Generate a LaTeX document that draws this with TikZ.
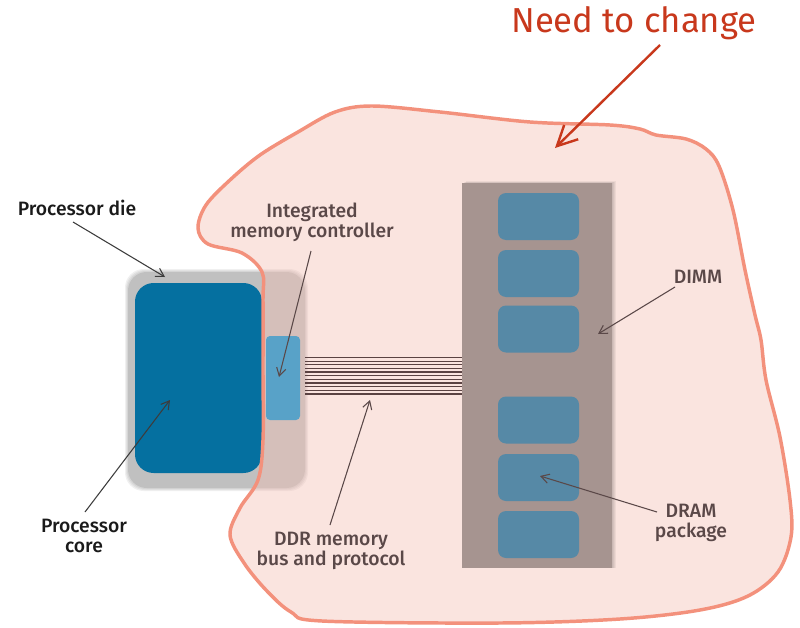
\documentclass[tikz,border=0pt]{standalone}
\usepackage{fontspec}
\setmainfont{Fira Sans Medium}
\newfontfamily\titlefont{Fira Sans}
\usetikzlibrary{arrows.meta}
\definecolor{blobline}{HTML}{F3917C}
\definecolor{blobfill}{RGB}{243,190,179}
\definecolor{diegray}{HTML}{C0C0C0}
\definecolor{corecol}{HTML}{0570A0}
\definecolor{imccol}{HTML}{58A2C8}
\definecolor{dimmcol}{HTML}{A69490}
\definecolor{chipcol}{HTML}{5689A6}
\definecolor{buscol}{HTML}{5A4242}
\definecolor{labbrown}{HTML}{5A4848}
\definecolor{labblack}{HTML}{1A1A1A}
\definecolor{redcol}{HTML}{C8381C}
\tikzset{
  box/.style={inner sep=0pt, outer sep=0pt, draw=none},
  chip/.style={box, fill=chipcol, rounded corners=6pt, minimum width=60.75pt, minimum height=35.25pt},
  lab/.style={inner sep=0pt, align=center, font=\fontsize{14.5}{14.3}\selectfont},
  labarrow/.style={line width=0.8pt, -{Straight Barb[length=6pt,width=7pt]}},
  busline/.style={draw=buscol, line width=0.95pt},
}
\begin{document}
\begin{tikzpicture}[x=0.75pt,y=-0.75pt]
\useasboundingbox (0,0) rectangle (800,628);
% die shadow
\foreach \i in {1,...,3}{
  \fill[black, opacity=0.06, rounded corners=14pt] ({128-\i},{272-\i}) rectangle ({305+\i},{488+\i});
}
\node[box, fill=diegray, rounded corners=14pt, minimum width=132.75pt, minimum height=162pt] (die) at (216.5,380) {};
\node[box, fill=corecol, rounded corners=14pt, minimum width=95.25pt, minimum height=142.5pt] (core) at (198.5,378) {};
% blob
\path[fill=blobfill, fill opacity=0.42] plot[smooth cycle, tension=0.55] coordinates {
  (263,300) (262,272) (242,253) (208,244) (198,228) (206,205) (230,180) (260,155) (298,132)
  (335,112) (372,106) (440,112) (530,122) (610,125) (640,129) (656,135) (686,139) (706,149)
  (719,166) (733,210) (745,270) (755,315) (761,340) (766,380) (780,437) (790,500) (791,537)
  (778,572) (748,596) (700,610) (620,619) (500,623) (322,621) (291,612) (266,590) (244,563)
  (230,535) (240,508) (258,480) (263,440) (263,370)};
\node[box, fill=imccol, rounded corners=3pt, minimum width=25.5pt, minimum height=63pt] (imc) at (283,378) {};
% DIMM shadow
\foreach \i in {1,...,4}{
  \fill[black, opacity=0.05] ({462+\i},{183-0.5*\i}) rectangle ({612+\i},{568});
}
\node[box, fill=dimmcol, minimum width=112.5pt, minimum height=288.75pt] (dimm) at (537,375.5) {};
\node[chip] (c1) at (538.5,216.5) {};
\node[chip] (c2) at (538.5,273.5) {};
\node[chip] (c3) at (538.5,329) {};
\node[chip] (c4) at (538.5,420) {};
\node[chip] (c5) at (538.5,477.5) {};
\node[chip] (c6) at (538.5,534.5) {};
% bus
\coordinate (busL) at (305,357.5);
\coordinate (busR) at (462,357.5);
\foreach \k in {0,...,10}{
  \draw[busline] ([yshift={-2.74pt*\k}]busL) -- ([yshift={-2.74pt*\k}]busR);
}
% blob outline
\draw[blobline, line width=2.6pt] plot[smooth cycle, tension=0.55] coordinates {
  (263,300) (262,272) (242,253) (208,244) (198,228) (206,205) (230,180) (260,155) (298,132)
  (335,112) (372,106) (440,112) (530,122) (610,125) (640,129) (656,135) (686,139) (706,149)
  (719,166) (733,210) (745,270) (755,315) (761,340) (766,380) (780,437) (790,500) (791,537)
  (778,572) (748,596) (700,610) (620,619) (500,623) (322,621) (291,612) (266,590) (244,563)
  (230,535) (240,508) (258,480) (263,440) (263,370)};
% labels
\node[inner sep=0pt, anchor=base, text=redcol, font=\titlefont\fontsize{26}{26}\selectfont] (need) at (634,32) {Need to change};
\node[lab, anchor=base, text=labblack] (pdie) at (77,215) {Processor die};
\node[lab, anchor=base, text=labbrown] (imclab) at (312,237) {Integrated\\memory controller};
\node[lab, anchor=base, text=labblack] (pcore) at (84,552) {Processor\\core};
\node[lab, anchor=base, text=labbrown] (ddr) at (331,565) {DDR memory\\bus and protocol};
\node[lab, anchor=base, text=labbrown] (dimmlab) at (698,283) {DIMM};
\node[lab, anchor=base, text=labbrown] (dram) at (691,537) {DRAM\\package};
% arrows
\coordinate (redS) at (660,45);   \coordinate (redT) at (555,148);
\coordinate (pdS) at (73,222);    \coordinate (pdT) at (165,277);
\coordinate (imcS) at (311,251);  \coordinate (imcT) at (279,377);
\coordinate (pcS) at (85,512);    \coordinate (pcT) at (170,400);
\coordinate (ddrS) at (330,525);  \coordinate (ddrT) at (370,400);
\coordinate (dimmS) at (675,287); \coordinate (dimmT) at (598,334);
\coordinate (dramS) at (657,512); \coordinate (dramT) at (540,476);
\draw[redcol, line width=1.8pt, -{Straight Barb[length=15pt,width=15pt]}] (redS) -- (redT);
\draw[labarrow, draw=labblack!85] (pdS) -- (pdT);
\draw[labarrow, draw=labbrown] (imcS) -- (imcT);
\draw[labarrow, draw=labblack!85] (pcS) -- (pcT);
\draw[labarrow, draw=labbrown] (ddrS) -- (ddrT);
\draw[labarrow, draw=labbrown] (dimmS) -- (dimmT);
\draw[labarrow, draw=labbrown] (dramS) -- (dramT);
\end{tikzpicture}
\end{document}
